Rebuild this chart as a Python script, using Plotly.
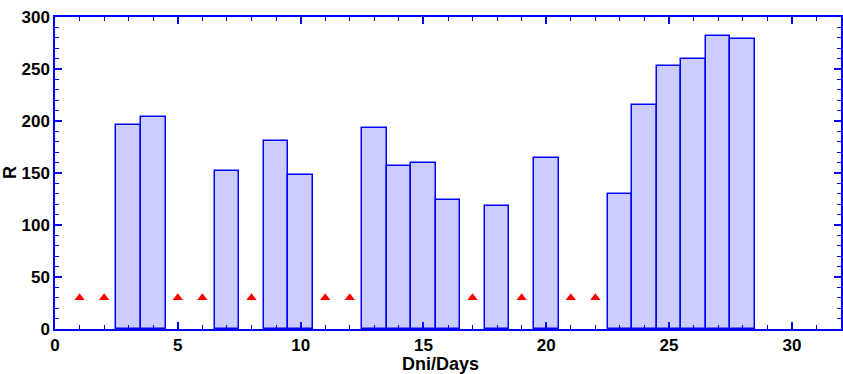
import plotly.graph_objects as go

bar_days = [3, 4, 7, 9, 10, 13, 14, 15, 16, 18, 20, 23, 24, 25, 26, 27, 28]
bar_values = [196, 204, 152, 181, 148, 193, 157, 160, 124, 118, 164, 130, 215, 253, 260, 282, 279]
marker_days = [1, 2, 5, 6, 8, 11, 12, 17, 19, 21, 22]
marker_values = [30] * len(marker_days)
x_ticks = [0, 5, 10, 15, 20, 25, 30]
y_ticks = [0, 50, 100, 150, 200, 250, 300]

blue = "#0000FF"
fig = go.Figure()
fig.add_trace(go.Bar(x=bar_days, y=bar_values, width=1,
                     marker=dict(color="#CCCCFF", line=dict(color=blue, width=1.5)),
                     showlegend=False))
fig.add_trace(go.Scatter(x=marker_days, y=marker_values, mode="markers",
                         marker=dict(symbol="triangle-up", size=9, color="#FF0000"),
                         showlegend=False))

axis_font = dict(family="Liberation Sans, Arial", size=17, color="black")
common = dict(ticks="inside", ticklen=7, tickwidth=1.5, tickcolor=blue,
              showline=True, linecolor=blue, linewidth=1.5, mirror="allticks",
              showgrid=False, zeroline=False, tickfont=axis_font, automargin=False,
              ticklabeloverflow="allow")
fig.update_layout(
    width=843, height=374,
    margin=dict(l=55, r=2, t=17, b=45),
    plot_bgcolor="white", paper_bgcolor="white",
    bargap=0,
    font=dict(family="Liberation Sans, Arial"),
    xaxis=dict(range=[0, 32], tickvals=x_ticks,
               ticktext=[f"<b>{v}</b>" for v in x_ticks],
               minor=dict(dtick=1, ticks="inside", ticklen=4, tickwidth=1, tickcolor=blue),
               **common),
    yaxis=dict(range=[0, 300], tickvals=y_ticks,
               ticktext=[f"<b>{v}</b>" for v in y_ticks],
               minor=dict(dtick=10, ticks="inside", ticklen=4, tickwidth=1, tickcolor=blue),
               **common),
    annotations=[
        dict(text="<b>Dni/Days</b>", xref="paper", yref="paper", x=0.491, y=0,
             yshift=-35, showarrow=False, xanchor="center", yanchor="middle", borderpad=0,
             font=dict(size=18, color="black", family="Liberation Sans, Arial")),
        dict(text="<b>R</b>", xref="paper", yref="paper", x=0, y=0.5, xshift=-45,
             showarrow=False, xanchor="center", yanchor="middle", textangle=-90,
             font=dict(size=18, color="black", family="Liberation Sans, Arial")),
    ],
)
fig.write_html("out.html", config={"displayModeBar": False},
               post_script="document.body.style.margin='0';")
